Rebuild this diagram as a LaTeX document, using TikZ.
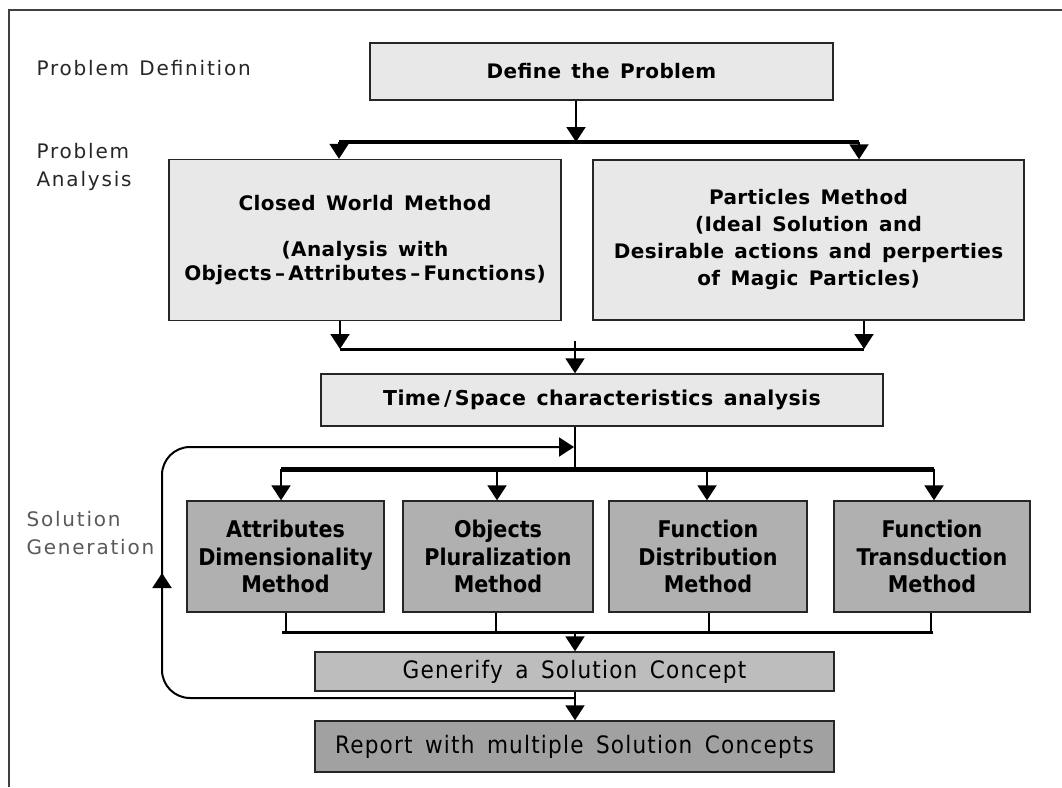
\documentclass[tikz,border=0pt]{standalone}
\usepackage{fontspec}
\usetikzlibrary{arrows.meta,decorations.markings}
\newfontfamily\boxfont[LetterSpace=2]{DejaVu Sans}
\newfontfamily\narrowfont{DejaVu Sans Condensed}
\newfontfamily\widenarrowfont[LetterSpace=5]{DejaVu Sans Condensed}
\newfontfamily\labelfont[LetterSpace=9]{DejaVu Sans}
% wide gap between words, as in the box texts
\newcommand\wsp{\hspace{0.52em}}

\tikzset{
  boxline/.style={draw=black!85, line width=1.4pt, inner sep=0pt, align=center},
  lightbox/.style={boxline, fill=black!9,
    font={\boxfont\bfseries\fontsize{20}{27}\selectfont}},
  methodbox/.style={boxline, fill=black!31, minimum height=111pt,
    font={\narrowfont\bfseries\fontsize{23}{27.5}\selectfont}},
  genbox/.style={boxline, minimum width=519pt,
    font={\widenarrowfont\fontsize{24}{27}\selectfont}},
  stage/.style={anchor=west, align=left, text=black!85,
    font={\labelfont\fontsize{20}{28}\selectfont}},
  conn/.style={line width=2pt},
  bar/.style={line width=3.5pt},
  tip/.tip={Triangle[width=19pt,length=15pt]},
  arr/.style={line width=2pt, -tip},
}

\begin{document}
\begin{tikzpicture}[x=1pt,y=-1pt]
\useasboundingbox (0,0) rectangle (1062,787);

% outer frame (top and left edges)
\draw[black!75, line width=1.6pt] (9,787) -- (9,10) -- (1062,10);

% stage labels
\node[stage] (lblDef) at (33,68) {Problem\wsp Definition};
\node[stage] (lblAna) at (33,167) {Problem\\Analysis};
\node[stage, text=black!65] (lblGen) at (23,533) {Solution\\Generation};

% problem definition and analysis
\node[lightbox, minimum width=463pt, minimum height=57pt] (define) at (601.5,71.5)
  {Define\wsp the\wsp Problem};
\node[lightbox, minimum width=392pt, minimum height=161pt,
      font={\boxfont\bfseries\fontsize{20}{24}\selectfont}] (closed) at (365,240)
  {Closed\wsp World\wsp Method\\[22pt](Analysis\wsp with\\Objects\,–\,Attributes\,–\,Functions)};
\node[lightbox, minimum width=431pt, minimum height=160pt] (particles) at (808.5,240)
  {Particles\wsp Method\\(Ideal\wsp Solution\wsp and\\Desirable\wsp actions\wsp and\wsp perperties\\of\wsp Magic\wsp Particles)};
\node[lightbox, minimum width=562pt, minimum height=52pt,
      font={\boxfont\bfseries\fontsize{20.5}{27}\selectfont}] (ts) at (602,400)
  {Time\,/\,Space\wsp characteristics\wsp analysis};

% solution generation methods
\node[methodbox, minimum width=197pt] (m1) at (285.5,556.5) {Attributes\\Dimensionality\\Method};
\node[methodbox, minimum width=190pt] (m2) at (498,556.5) {Objects\\Pluralization\\Method};
\node[methodbox, minimum width=198pt] (m3) at (708,556.5) {Function\\Distribution\\Method};
\node[methodbox, minimum width=196pt] (m4) at (932,556.5) {Function\\Transduction\\Method};

\node[genbox, fill=black!26, minimum height=39pt] (gen) at (574.5,671.5)
  {Generify\wsp a\wsp Solution\wsp Concept};
\node[genbox, fill=black!37, minimum height=51pt] (report) at (574.5,746.5)
  {Report\wsp with\wsp multiple\wsp Solution\wsp Concepts};

% split below the problem definition
\coordinate (s1) at (576,142);
\coordinate (s1L) at (339,142);
\coordinate (s1R) at (859,142);
\draw[bar] (s1L) -- (s1R);
\draw[arr] (define.south -| s1) -- (s1);
\draw[arr] (s1L) -- (s1L |- closed.north);
\draw[arr] (s1R) -- (s1R |- particles.north);

% join of the two analysis methods
\coordinate (j1) at (575,349);
\coordinate (j1L) at (340,349);
\coordinate (j1R) at (864,349);
\draw[bar, line width=3pt] (j1L) -- (j1R);
\draw[arr] (closed.south -| j1L) -- (j1L);
\draw[arr] (particles.south -| j1R) -- (j1R);
\draw[arr] ([yshift=8pt]j1) -- (j1 |- ts.north);

% split into the four generation methods
\coordinate (s2) at (575,469);
\coordinate (s2a) at (281,469);
\coordinate (s2b) at (497,469);
\coordinate (s2c) at (707,469);
\coordinate (s2d) at (934,469);
\draw[conn] (ts.south -| s2) -- (s2);
\draw[bar, line width=5pt] (s2a) -- (s2d);
\draw[arr] (s2a) -- (s2a |- m1.north);
\draw[arr] (s2b) -- (s2b |- m2.north);
\draw[arr] (s2c) -- (s2c |- m3.north);
\draw[arr] (s2d) -- (s2d |- m4.north);

% join of the four methods
\coordinate (j2) at (575,632);
\coordinate (j2a) at (286,632);
\coordinate (j2b) at (496,632);
\coordinate (j2c) at (709,632);
\coordinate (j2d) at (931,632);
\draw[conn] (m1.south -| j2a) -- (j2a);
\draw[conn] (m2.south -| j2b) -- (j2b);
\draw[conn] (m3.south -| j2c) -- (j2c);
\draw[conn] (m4.south -| j2d) -- (j2d);
\draw[bar, line width=3pt] ([xshift=-4pt]j2a) -- ([xshift=2pt]j2d);
\draw[arr] (j2) -- (j2 |- gen.north);

% generify to report
\draw[arr] (gen.south -| j2) -- (j2 |- report.north);

% feedback loop back to the method split
\coordinate (fb0) at (575,698);
\coordinate (fb1) at (162,698);
\coordinate (fb2) at (162,447);
\coordinate (fb3) at (574,447);
\draw[arr, rounded corners=28pt,
      decoration={markings, mark=at position 0.5 with {\arrow{tip}}},
      postaction={decorate}]
  (fb0) -- (fb1) -- (fb2) -- (fb3);
\end{tikzpicture}
\end{document}
